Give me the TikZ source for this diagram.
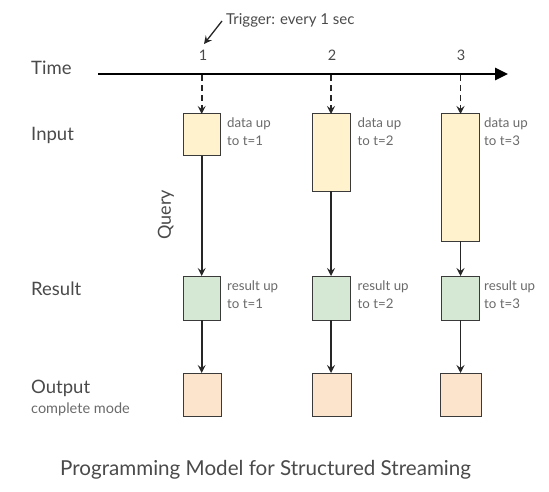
\documentclass[tikz,border=0pt]{standalone}
\usepackage{fontspec}
\setmainfont{Lato}
\usetikzlibrary{arrows.meta}
\definecolor{lbl}{HTML}{4A4A4A}
\definecolor{sml}{HTML}{6A6A6A}
\definecolor{inF}{HTML}{FFF2CC}
\definecolor{resF}{HTML}{D5E8D4}
\definecolor{outF}{HTML}{FCE4CC}
\definecolor{edge}{HTML}{3A3A3A}
\tikzset{
  rowlabel/.style={anchor=west, text=lbl, font=\fontsize{18.5}{20}\selectfont, inner sep=0pt},
  smalltext/.style={anchor=north west, text=sml, font=\fontsize{13.3}{18}\selectfont, align=left, inner sep=0pt},
  ticklabel/.style={text=lbl, font=\fontsize{14.5}{16}\selectfont, inner sep=0pt},
  boxbase/.style={draw=edge, line width=1pt, inner sep=0pt, outer sep=0pt},
  inbox/.style={boxbase, fill=inF},
  resbox/.style={boxbase, fill=resF},
  outbox/.style={boxbase, fill=outF},
  flow/.style={-{Stealth[length=8pt,width=8pt,inset=3pt]}, line width=1.6pt, color=black!85},
  trig/.style={flow, dash pattern=on 6pt off 4pt},
}
\begin{document}
\begin{tikzpicture}[x=1pt,y=-1pt]
\useasboundingbox (0,0) rectangle (549,492);
% row labels
\node[rowlabel] (lt) at (31,68) {Time};
\node[rowlabel] (li) at (31,135) {Input};
\node[rowlabel] (lr) at (31,289) {Result};
\node[rowlabel] (lo) at (31,388) {Output};
\node[anchor=west, text=sml, font=\fontsize{14.5}{16}\selectfont, inner sep=0pt] (lm) at (31,409) {complete mode};
% timeline
\coordinate (ts) at (98,74);
\coordinate (te) at (508,74);
\draw[line width=2.8pt, -{Triangle[length=13pt,width=12pt]}] (ts) -- (te);
\coordinate (t1) at (201.7,75);
\coordinate (t2) at (331,75);
\coordinate (t3) at (460.5,75);
\node[ticklabel] (n1) at (203,55) {1};
\node[ticklabel] (n2) at (332,55) {2};
\node[ticklabel] (n3) at (461,55) {3};
% trigger
\node[anchor=west, text=lbl, font=\fontsize{15}{16}\selectfont, inner sep=0pt] (trg) at (226,20) {Trigger: every 1 sec};
\coordinate (trgs) at (222,21);
\coordinate (trge) at (204,44);
\draw[flow, line width=1.3pt] (trgs) -- (trge);
% input boxes
\node[inbox, minimum width=37pt, minimum height=42pt] (i1) at (201.7,135) {};
\node[inbox, minimum width=38pt, minimum height=77pt] (i2) at (331,152.5) {};
\node[inbox, minimum width=37.5pt, minimum height=127pt] (i3) at (460.5,177.5) {};
% result boxes
\node[resbox, minimum width=37pt, minimum height=44pt] (r1) at (201.7,298) {};
\node[resbox, minimum width=38pt, minimum height=44pt] (r2) at (331,298) {};
\node[resbox, minimum width=37.5pt, minimum height=44pt] (r3) at (460.5,298) {};
% output boxes
\node[outbox, minimum width=38pt, minimum height=43pt] (o1) at (202.7,394.5) {};
\node[outbox, minimum width=39pt, minimum height=43pt] (o2) at (332,394.5) {};
\node[outbox, minimum width=41pt, minimum height=43pt] (o3) at (461,394.5) {};
% small texts
\node[smalltext] (d1) at (227,118) {data up\\to t=1};
\node[smalltext] (d2) at (357.5,118) {data up\\to t=2};
\node[smalltext] (d3) at (484,118) {data up\\to t=3};
\node[smalltext] (s1) at (227,281) {result up\\to t=1};
\node[smalltext] (s2) at (357.5,281) {result up\\to t=2};
\node[smalltext] (s3) at (484,281) {result up\\to t=3};
% query label
\node[rotate=90, text=lbl, font=\fontsize{18}{20}\selectfont, inner sep=0pt] (q) at (166,215) {Query};
% connectors
\draw[trig] (t1) -- (i1);
\draw[trig] (t2) -- (i2);
\draw[trig] (t3) -- (i3);
\draw[flow] (i1) -- (r1);
\draw[flow] (i2) -- (r2);
\draw[flow] (i3) -- (r3);
\draw[flow] (r1) -- (r1 |- o1.north);
\draw[flow] (r2) -- (r2 |- o2.north);
\draw[flow] (r3) -- (r3 |- o3.north);
% caption
\node[anchor=west, text=lbl, font=\fontsize{20.6}{22}\selectfont, inner sep=0pt] (cap) at (60,470) {Programming Model for Structured Streaming};
\end{tikzpicture}
\end{document}
